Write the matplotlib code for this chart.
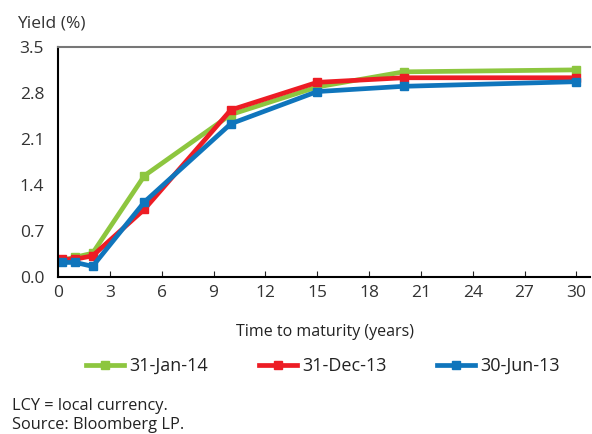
import matplotlib.pyplot as plt
from matplotlib.ticker import MultipleLocator

plt.rcParams['font.family'] = ['Open Sans', 'DejaVu Sans']

# maturities (years) and yields (%)
maturity = [0.25, 1, 2, 5, 10, 15, 20, 30]
jan14 = [0.25, 0.30, 0.36, 1.54, 2.47, 2.89, 3.12, 3.15]
dec13 = [0.27, 0.27, 0.32, 1.03, 2.54, 2.96, 3.03, 3.03]
jun13 = [0.22, 0.22, 0.16, 1.14, 2.33, 2.82, 2.90, 2.97]
labels = ['31-Jan-14', '31-Dec-13', '30-Jun-13']
colors = ['#8DC63F', '#ED1C24', '#0F75BC']

fig = plt.figure(figsize=(5.92, 4.34), dpi=100)
ax = fig.add_axes([0.098, 0.362, 0.899, 0.530])

for ys, lab, c in zip([jan14, dec13, jun13], labels, colors):
    ax.plot(maturity, ys, color=c, lw=3.4, marker='s', ms=5.5, label=lab,
            solid_joinstyle='miter')

ax.set_xlim(0, 30.8)
ax.set_ylim(0, 3.5)
ax.xaxis.set_major_locator(MultipleLocator(3))
ax.yaxis.set_major_locator(MultipleLocator(0.7))
ax.yaxis.set_major_formatter(plt.FormatStrFormatter('%.1f'))
ax.tick_params(axis='x', direction='in', length=4, labelsize=12.5,
               colors='#333333', pad=6)
ax.tick_params(axis='y', length=0, labelsize=12.5, colors='#333333', pad=10)
ax.tick_params(axis='both', color='#222222')

ax.spines['right'].set_visible(False)
ax.spines['top'].set_color('#777777')
ax.spines['top'].set_linewidth(1.5)
ax.spines['left'].set_linewidth(1.5)
ax.spines['bottom'].set_linewidth(1.5)

fig.text(17 / 592, 1 - 23 / 434, 'Yield (%)', fontsize=12.5, color='#333333',
         va='center', ha='left')
fig.text(325 / 592, 1 - 332 / 434, 'Time to maturity (years)', fontsize=11.5,
         color='#222222', ha='center', va='center')

fig.legend(loc='center', bbox_to_anchor=(323 / 592, 1 - 366 / 434), ncol=3,
           frameon=False, fontsize=13, handlelength=2.1, columnspacing=2.8,
           handletextpad=0.3, labelcolor='#222222')

fig.text(12 / 592, 1 - 406 / 434, 'LCY = local currency.', fontsize=11.8,
         color='#222222', va='center')
fig.text(12 / 592, 1 - 425 / 434, 'Source: Bloomberg LP.', fontsize=11.8,
         color='#222222', va='center')

fig.savefig('out.png', dpi=100)
